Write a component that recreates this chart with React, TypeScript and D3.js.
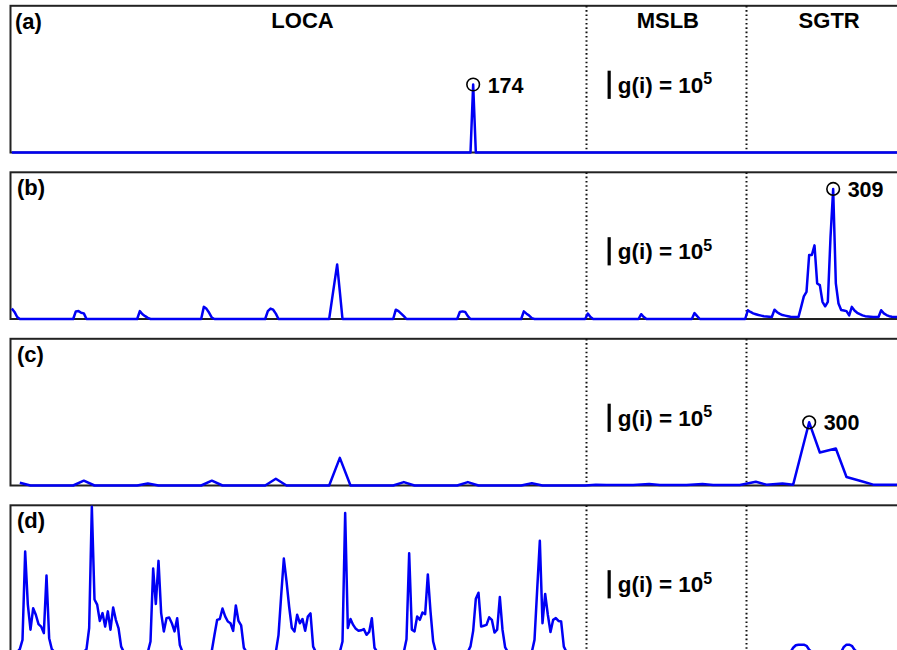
import React, { useEffect, useRef } from 'react';
import * as d3 from 'd3';

// scenario groups along the index axis i
const categories = ['LOCA', 'MSLB', 'SGTR'];
const categoryLabelAt = [110, 247, 307.5];
const categoryBreaks = [216.5, 276.5];
const indexDomain: [number, number] = [0.5, 336.5];

const panelLabels = ['(a)', '(b)', '(c)', '(d)'];
const peakIndex = [174, 309, 300, null];

// scale bar: |g(i) = 10^5, values below are in units of 10^5
const scaleBarAt = 225;
const scaleBarFrom = 1.9;
const yMax = 5.2;

// g(i), [index, value]; indices not listed sit on zero
const seriesA: [number, number][] = [[174, 2.41]];

const seriesB: [number, number][] = [
  [1, 0.37], [2, 0.25], [3, 0.07],
  [25, 0.27], [26, 0.28], [27, 0.22], [28, 0.2],
  [49, 0.28], [50, 0.17], [51, 0.1], [52, 0.04],
  [73, 0.43], [74, 0.36], [75, 0.22], [76, 0.05],
  [97, 0.28], [98, 0.37], [99, 0.33], [100, 0.19],
  [121, 0.65], [122, 1.3], [123, 1.93], [124, 0.97],
  [145, 0.33], [146, 0.28], [147, 0.19], [148, 0.1],
  [169, 0.25], [170, 0.27], [171, 0.25], [172, 0.1],
  [193, 0.27], [194, 0.19], [195, 0.12], [196, 0.03],
  [217, 0.19], [218, 0.07], [237, 0.17], [238, 0.07], [257, 0.21], [258, 0.1],
  [277, 0.31], [278, 0.25], [279, 0.2], [280, 0.17], [281, 0.14], [282, 0.12],
  [283, 0.1], [284, 0.09], [285, 0.08], [286, 0.07], [287, 0.33], [288, 0.24],
  [289, 0.18], [290, 0.14], [291, 0.12], [292, 0.1], [293, 0.08], [294, 0.07],
  [295, 0.07], [296, 0.07], [297, 0.43], [298, 0.8], [299, 0.96], [300, 2.27],
  [301, 2.27], [302, 2.61], [303, 1.26], [304, 1.2], [305, 0.61], [306, 0.45],
  [307, 0.61], [308, 2.9], [309, 4.61], [310, 1.26], [311, 0.55], [312, 0.32],
  [313, 0.3], [314, 0.28], [315, 0.13], [316, 0.43], [317, 0.3], [318, 0.22],
  [319, 0.17], [320, 0.13], [321, 0.1], [322, 0.09], [323, 0.08], [324, 0.07],
  [325, 0.07], [326, 0.07], [327, 0.31], [328, 0.2], [329, 0.14], [330, 0.1],
  [331, 0.08], [332, 0.07], [333, 0.07], [334, 0.07], [335, 0.06], [336, 0.06],
];

// panel (c) is sampled on a coarser grid
const indexC = [
  ...d3.range(4, 217, 4),
  220, 224, 230, 234, 240, 244, 250, 254, 260, 264, 270, 274,
  280, 284, 290, 294, 300, 304, 310, 314, 320, 324, 330, 334,
];
const seriesC: [number, number][] = [
  [4, 0.1], [28, 0.17], [52, 0.07], [76, 0.17], [100, 0.24], [124, 0.98],
  [148, 0.12], [172, 0.12], [196, 0.08],
  [220, 0.03], [224, 0.02], [230, 0.02], [234, 0.02], [240, 0.05], [244, 0.02],
  [250, 0.02], [254, 0.02], [260, 0.05], [264, 0.02], [270, 0.02], [274, 0.02],
  [280, 0.13], [284, 0.03], [290, 0.07], [294, 0.03], [300, 2.24], [304, 1.17],
  [310, 1.31], [314, 0.3], [320, 0.14], [324, 0.03], [330, 0.03], [334, 0.03],
];

const seriesD: [number, number][] = [
  [4, 0.1], [5, 0.43], [6, 3.56], [7, 1.68], [8, 0.79], [9, 1.55], [10, 1.32],
  [11, 0.99], [12, 0.9], [13, 0.67], [14, 2.71], [15, 0.49], [16, 0.1],
  [29, 0.1], [30, 0.85], [31, 5.15], [32, 1.86], [33, 1.68], [34, 1.1], [35, 1.38],
  [36, 0.9], [37, 1.44], [38, 0.79], [39, 1.58], [40, 1.14], [41, 0.85], [42, 0.19],
  [53, 0.37], [54, 2.96], [55, 1.7], [56, 3.23], [57, 1.38], [58, 0.73], [59, 1.2],
  [60, 1.22], [61, 1.02], [62, 0.73], [63, 1.2], [64, 0.25],
  [76, 0.05], [77, 0.61], [78, 1.14], [79, 1.17], [80, 1.54], [81, 1.26], [82, 1.08],
  [83, 1.02], [84, 0.75], [85, 1.65], [86, 1.1], [87, 0.94], [88, 0.15],
  [101, 0.6], [102, 2.0], [103, 3.31], [104, 2.51], [105, 1.6], [106, 0.85],
  [107, 0.73], [108, 1.32], [109, 1.02], [110, 1.17], [111, 0.75], [112, 1.26],
  [113, 1.37], [114, 0.19],
  [125, 0.37], [126, 4.93], [127, 0.85], [128, 1.17], [129, 0.96], [130, 0.82],
  [131, 0.75], [132, 0.77], [133, 0.81], [134, 0.61], [135, 0.71], [136, 1.2], [137, 0.15],
  [149, 0.45], [150, 3.5], [151, 0.79], [152, 0.73], [153, 1.26], [154, 1.14],
  [155, 1.4], [156, 1.34], [157, 2.75], [158, 1.44], [159, 0.37],
  [173, 0.2], [174, 0.75], [175, 1.89], [176, 2.1], [177, 0.9], [178, 0.93],
  [179, 0.96], [180, 1.23], [181, 1.14], [182, 0.69], [183, 0.79], [184, 1.95],
  [185, 0.79], [186, 0.16],
  [197, 0.43], [198, 2.2], [199, 3.94], [200, 1.02], [201, 2.06], [202, 1.32],
  [203, 0.71], [204, 1.14], [205, 1.2], [206, 1.1], [207, 1.08], [208, 0.19],
  [294, 0.15], [295, 0.24], [296, 0.26], [297, 0.26], [298, 0.26], [299, 0.22], [300, 0.08],
  [313, 0.18], [314, 0.26], [315, 0.26], [316, 0.22], [317, 0.08],
];

const indexFull = d3.range(1, 337);

const W = 897;
const H = 650;
const FONT = "'Liberation Sans', Arial, Helvetica, sans-serif";

type Point = { i: number; v: number };

const toSeries = (pairs: [number, number][], idx: number[]): Point[] => {
  const lookup = new Map(pairs);
  return idx.map(i => ({ i, v: lookup.get(i) ?? 0 }));
};

const App = () => {
  const ref = useRef<SVGSVGElement>(null);

  useEffect(() => {
    const svg = d3.select(ref.current);
    svg.selectAll('*').remove();

    const x = d3.scaleLinear().domain(indexDomain).range([10.5, 906.5]);

    const panels = [
      toSeries(seriesA, indexFull),
      toSeries(seriesB, indexFull),
      toSeries(seriesC, indexC),
      toSeries(seriesD, indexFull),
    ];

    panels.forEach((data, k) => {
      const top = 5.8 + k * 166.5;
      const bottom = top + 146.7;
      const y = d3.scaleLinear().domain([0, yMax]).range([bottom, top]);
      const g = svg.append('g');

      // frame
      g.append('rect')
        .attr('x', x(indexDomain[0]))
        .attr('y', top)
        .attr('width', x(indexDomain[1]) - x(indexDomain[0]))
        .attr('height', bottom - top)
        .attr('fill', 'none')
        .attr('stroke', '#222')
        .attr('stroke-width', 2);

      // group separators
      categoryBreaks.forEach(b => {
        g.append('line')
          .attr('x1', x(b)).attr('x2', x(b))
          .attr('y1', top).attr('y2', bottom)
          .attr('stroke', '#111')
          .attr('stroke-width', 2)
          .attr('stroke-dasharray', '1.6 2.7');
      });

      const line = d3.line<Point>().x(d => x(d.i)).y(d => y(d.v));
      g.append('path')
        .datum(data)
        .attr('d', line)
        .attr('fill', 'none')
        .attr('stroke', '#0000f5')
        .attr('stroke-width', 2.5)
        .attr('stroke-linejoin', 'round');

      g.append('text')
        .attr('x', k === 0 ? 15 : 17)
        .attr('y', top + 23)
        .attr('font-family', FONT)
        .attr('font-weight', 'bold')
        .attr('font-size', 22)
        .text(panelLabels[k]);

      if (k === 0) {
        categories.forEach((c, j) => {
          g.append('text')
            .attr('x', x(categoryLabelAt[j]))
            .attr('y', top + 22.5)
            .attr('text-anchor', 'middle')
            .attr('font-family', FONT)
            .attr('font-weight', 'bold')
            .attr('font-size', 22)
            .text(c);
        });
      }

      // scale bar for 10^5
      const barBottom = y(scaleBarFrom);
      g.append('line')
        .attr('x1', x(scaleBarAt)).attr('x2', x(scaleBarAt))
        .attr('y1', y(scaleBarFrom + 1)).attr('y2', barBottom)
        .attr('stroke', '#000')
        .attr('stroke-width', 3.2);
      const t = g.append('text')
        .attr('x', x(scaleBarAt) + 8.5)
        .attr('y', barBottom - 6)
        .attr('font-family', FONT)
        .attr('font-weight', 'bold')
        .attr('font-size', 22.5);
      t.append('tspan').text('g(i) = 10');
      t.append('tspan').attr('dy', -8.5).attr('font-size', 16).text('5');

      const p = peakIndex[k];
      if (p != null) {
        const d = data.find(q => q.i === p);
        if (d) {
          g.append('circle')
            .attr('cx', x(d.i))
            .attr('cy', y(d.v))
            .attr('r', 6.3)
            .attr('fill', 'none')
            .attr('stroke', '#000')
            .attr('stroke-width', 1.6);
          g.append('text')
            .attr('x', x(d.i) + 14.5)
            .attr('y', y(d.v) + 8)
            .attr('font-family', FONT)
            .attr('font-weight', 'bold')
            .attr('font-size', 21.5)
            .text(String(p));
        }
      }
    });
  }, []);

  return (
    <svg
      ref={ref}
      width={W}
      height={H}
      style={{ position: 'absolute', left: 0, top: 0, background: '#fff' }}
    />
  );
};

export default App;
